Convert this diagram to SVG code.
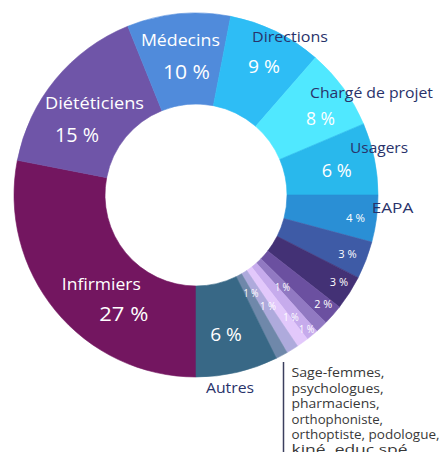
<svg xmlns="http://www.w3.org/2000/svg" width="443" height="452" viewBox="0 0 443 452">
<style>
  text { font-family: "Open Sans", "Liberation Sans", sans-serif; }
  .w { fill: #ffffff; text-anchor: middle; }
  .n { fill: #29326a; text-anchor: middle; font-size: 15px; }
  .nm { font-size: 16px; }
  .pb { font-size: 20px; }
  .pm { font-size: 18px; }
  .ps { font-size: 11px; }
  .p1 { font-size: 10px; }
  .note { fill: #383838; font-size: 12px; }
  .slice { stroke-width: 0.6; }
</style>
<rect width="443" height="452" fill="#ffffff"/>
<g id="slices">
  <g id="infirmiers"><path class="slice" fill="#731660" stroke="#731660" d="M196,377 A182,182 0 0 1 17.35,160.27 L106.67,177.64 A91,91 0 0 0 196,286 Z"/></g>
  <g id="dieteticiens"><path class="slice" fill="#6f55a8" stroke="#6f55a8" d="M17.35,160.27 A182,182 0 0 1 127.82,26.25 L161.91,110.63 A91,91 0 0 0 106.67,177.64 Z"/></g>
  <g id="medecins"><path class="slice" fill="#508bdb" stroke="#508bdb" d="M127.82,26.25 A182,182 0 0 1 230.73,16.35 L213.36,105.67 A91,91 0 0 0 161.91,110.63 Z"/></g>
  <g id="directions"><path class="slice" fill="#2ebdf5" stroke="#2ebdf5" d="M230.73,16.35 A182,182 0 0 1 315.41,57.64 L255.70,126.32 A91,91 0 0 0 213.36,105.67 Z"/></g>
  <g id="charge"><path class="slice" fill="#50e8ff" stroke="#50e8ff" d="M315.41,57.64 A182,182 0 0 1 363.53,123.89 L279.77,159.45 A91,91 0 0 0 255.70,126.32 Z"/></g>
  <g id="usagers"><path class="slice" fill="#29b8ec" stroke="#29b8ec" d="M363.53,123.89 A182,182 0 0 1 378,195 L287,195 A91,91 0 0 0 279.77,159.45 Z"/></g>
  <g id="eapa"><path class="slice" fill="#2a8fd5" stroke="#2a8fd5" d="M378,195 A182,182 0 0 1 371.80,242.10 L283.90,218.55 A91,91 0 0 0 287,195 Z"/></g>
  <g id="s3a"><path class="slice" fill="#3e5ba6" stroke="#3e5ba6" d="M371.80,242.10 A182,182 0 0 1 358.16,277.63 L277.08,236.31 A91,91 0 0 0 283.90,218.55 Z"/></g>
  <g id="s3b"><path class="slice" fill="#433175" stroke="#433175" d="M358.16,277.63 A182,182 0 0 1 339.42,307.06 L267.71,251.03 A91,91 0 0 0 277.08,236.31 Z"/></g>
  <g id="s2"><path class="slice" fill="#6b50a0" stroke="#6b50a0" d="M339.42,307.06 A182,182 0 0 1 325.82,322.56 L260.91,258.78 A91,91 0 0 0 267.71,251.03 Z"/></g>
  <g id="s1a"><path class="slice" fill="#9179c2" stroke="#9179c2" d="M325.82,322.56 A182,182 0 0 1 316.83,331.10 L256.41,263.05 A91,91 0 0 0 260.91,258.78 Z"/></g>
  <g id="s1b"><path class="slice" fill="#c6abec" stroke="#c6abec" d="M316.83,331.10 A182,182 0 0 1 307.29,339.00 L251.65,267.00 A91,91 0 0 0 256.41,263.05 Z"/></g>
  <g id="s1c"><path class="slice" fill="#e2c8fb" stroke="#e2c8fb" d="M307.29,339.00 A182,182 0 0 1 297.50,346.06 L246.75,270.53 A91,91 0 0 0 251.65,267.00 Z"/></g>
  <g id="s1d"><path class="slice" fill="#aeaadc" stroke="#aeaadc" d="M297.50,346.06 A182,182 0 0 1 287,352.62 L241.5,273.81 A91,91 0 0 0 246.75,270.53 Z"/></g>
  <g id="s1e"><path class="slice" fill="#6f88aa" stroke="#6f88aa" d="M287,352.62 A182,182 0 0 1 276.35,358.31 L236.18,276.65 A91,91 0 0 0 241.5,273.81 Z"/></g>
  <g id="autres"><path class="slice" fill="#386886" stroke="#386886" d="M276.35,358.31 A182,182 0 0 1 196,377 L196,286 A91,91 0 0 0 236.18,276.65 Z"/></g>
</g>
<g id="labels">
  <text class="w nm" x="180.4" y="46" textLength="79" lengthAdjust="spacingAndGlyphs">Médecins</text>
  <text class="w pb" x="186.4" y="79" textLength="47" lengthAdjust="spacingAndGlyphs">10 %</text>
  <text class="w nm" x="94.5" y="109.3" textLength="99" lengthAdjust="spacingAndGlyphs">Diététiciens</text>
  <text class="w pb" x="77" y="141.7" textLength="44" lengthAdjust="spacingAndGlyphs">15 %</text>
  <text class="w nm" x="101.3" y="290" textLength="79" lengthAdjust="spacingAndGlyphs">Infirmiers</text>
  <text class="w pb" x="123.8" y="320.7" textLength="49" lengthAdjust="spacingAndGlyphs">27 %</text>
  <text class="n" x="290" y="41.7" textLength="76" lengthAdjust="spacingAndGlyphs">Directions</text>
  <text class="w pm" x="264" y="73.3" textLength="32" lengthAdjust="spacingAndGlyphs">9 %</text>
  <text class="n" x="371.5" y="98.3" textLength="123" lengthAdjust="spacingAndGlyphs">Chargé de projet</text>
  <text class="w pm" x="320.5" y="125" textLength="29" lengthAdjust="spacingAndGlyphs">8 %</text>
  <text class="n" x="379" y="152.7" textLength="58" lengthAdjust="spacingAndGlyphs">Usagers</text>
  <text class="w pm" x="336.7" y="176.7" textLength="30" lengthAdjust="spacingAndGlyphs">6 %</text>
  <text class="n" x="392.5" y="213.3" textLength="41.6" lengthAdjust="spacingAndGlyphs">EAPA</text>
  <text class="w ps" x="355.5" y="221.7" textLength="19" lengthAdjust="spacingAndGlyphs">4 %</text>
  <text class="w ps" x="347.5" y="258.3" textLength="18.4" lengthAdjust="spacingAndGlyphs">3 %</text>
  <text class="w ps" x="339" y="285.7" textLength="18.3" lengthAdjust="spacingAndGlyphs">3 %</text>
  <text class="w ps" x="323.3" y="308.3" textLength="18" lengthAdjust="spacingAndGlyphs">2 %</text>
  <text class="w p1" x="282.5" y="290.7" textLength="15" lengthAdjust="spacingAndGlyphs">1 %</text>
  <text class="w p1" x="251" y="296.7" textLength="15" lengthAdjust="spacingAndGlyphs">1 %</text>
  <text class="w p1" x="268" y="310" textLength="16" lengthAdjust="spacingAndGlyphs">1 %</text>
  <text class="w p1" x="291" y="321" textLength="15.5" lengthAdjust="spacingAndGlyphs">1 %</text>
  <text class="w p1" x="306.7" y="333.3" textLength="15.3" lengthAdjust="spacingAndGlyphs">1 %</text>
  <text class="w pm" x="226" y="340.7" textLength="31.7" lengthAdjust="spacingAndGlyphs">6 %</text>
  <text class="n" x="230" y="393.3" textLength="48" lengthAdjust="spacingAndGlyphs">Autres</text>
</g>
<g id="connectors">
  <line x1="283.5" y1="362" x2="283.5" y2="452" stroke="#3b3f5e" stroke-width="1.5"/>
</g>
<g id="note">
  <text class="note" x="291.5" y="377.3" textLength="93" lengthAdjust="spacingAndGlyphs">Sage-femmes,</text>
  <text class="note" x="291.5" y="392.7" textLength="92" lengthAdjust="spacingAndGlyphs">psychologues,</text>
  <text class="note" x="291.5" y="408.1" textLength="88" lengthAdjust="spacingAndGlyphs">pharmaciens,</text>
  <text class="note" x="291.5" y="423.5" textLength="91.5" lengthAdjust="spacingAndGlyphs">orthophoniste,</text>
  <text class="note" x="291.5" y="438.9" textLength="148" lengthAdjust="spacingAndGlyphs">orthoptiste, podologue,</text>
  <text class="note" x="291.5" y="453.5" textLength="116" lengthAdjust="spacingAndGlyphs">kiné, educ spé</text>
</g>
</svg>
